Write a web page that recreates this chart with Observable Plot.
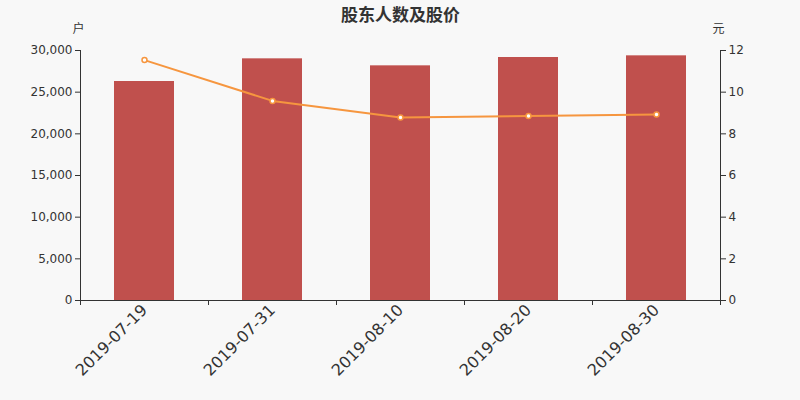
<!DOCTYPE html>
<html>
<head>
<meta charset="utf-8">
<script src="https://cdn.jsdelivr.net/npm/d3@7"></script>
<script src="https://cdn.jsdelivr.net/npm/@observablehq/plot@0.6"></script>
<style>
  html, body { margin: 0; padding: 0; background: #f8f8f8; }
  #chart { width: 800px; height: 400px; }
</style>
</head>
<body>
<div id="chart"></div>
<script>
const title = "股东人数及股价";
const leftUnit = "户";
const rightUnit = "元";
const dates = ["2019-07-19", "2019-07-31", "2019-08-10", "2019-08-20", "2019-08-30"];
const holders = [26280, 29000, 28160, 29160, 29360];
const prices = [11.54, 9.58, 8.78, 8.86, 8.93];
const holderTicks = [0, 5000, 10000, 15000, 20000, 25000, 30000];
const priceTicks = [0, 2, 4, 6, 8, 10, 12];

const ratio = holderTicks[holderTicks.length - 1] / priceTicks[priceTicks.length - 1];
const rows = dates.map((d, i) => ({date: d, holders: holders[i], price: prices[i]}));

const barColor = "#c0504d";
const lineColor = "#f6963f";
const ink = "#333333";

const chart = Plot.plot({
  width: 800,
  height: 400,
  marginLeft: 80,
  marginRight: 80,
  marginTop: 50,
  marginBottom: 100,
  style: {background: "#f8f8f8", fontFamily: "DejaVu Sans, 'Noto Sans CJK SC', sans-serif", color: ink, overflow: "visible"},
  x: {type: "band", domain: dates, paddingInner: 0.53, paddingOuter: 0.265},
  y: {domain: [0, 30000]},
  marks: [
    Plot.barY(rows, {x: "date", y: "holders", fill: barColor}),
    Plot.line(rows, {x: "date", y: d => d.price * ratio, stroke: lineColor, strokeWidth: 2}),
    Plot.dot(rows, {x: "date", y: d => d.price * ratio, r: 2.5, fill: "white", stroke: lineColor, strokeWidth: 1.5}),
    Plot.axisY({anchor: "left", ticks: holderTicks, tickFormat: d3.format(","), tickSize: 5, tickPadding: 3, fontSize: 12, label: null, color: ink}),
    Plot.axisY({anchor: "right", ticks: priceTicks.map(p => p * ratio), tickFormat: d => String(d / ratio), tickSize: 5, tickPadding: 3, fontSize: 12, label: null, color: ink}),
    Plot.axisX({tickSize: 0, tickRotate: -45, tickPadding: 7, fontSize: 16, label: null, color: ink}),
    Plot.axisX({tickSize: 5, tickFormat: () => "", dx: -64, label: null, color: ink}),
    Plot.axisX({ticks: [dates[dates.length - 1]], tickSize: 5, tickFormat: () => "", dx: 64, label: null, color: ink}),
    Plot.ruleY([0], {stroke: ink}),
    Plot.frame({anchor: "left", stroke: ink}),
    Plot.frame({anchor: "right", stroke: ink}),
    Plot.text([title], {frameAnchor: "top", dy: -42, fontSize: 17, fontWeight: "bold", fill: ink, fontFamily: "'Noto Sans CJK SC', sans-serif", letterSpacing: "2px"}),
    Plot.text([leftUnit], {frameAnchor: "top-left", dy: -26, dx: -2, fontSize: 12, fill: ink, textAnchor: "middle", fontFamily: "'Noto Sans CJK SC', sans-serif"}),
    Plot.text([rightUnit], {frameAnchor: "top-right", dy: -26, dx: -2, fontSize: 12, fill: ink, textAnchor: "middle", fontFamily: "'Noto Sans CJK SC', sans-serif"})
  ]
});
document.getElementById("chart").appendChild(chart);
</script>
</body>
</html>
